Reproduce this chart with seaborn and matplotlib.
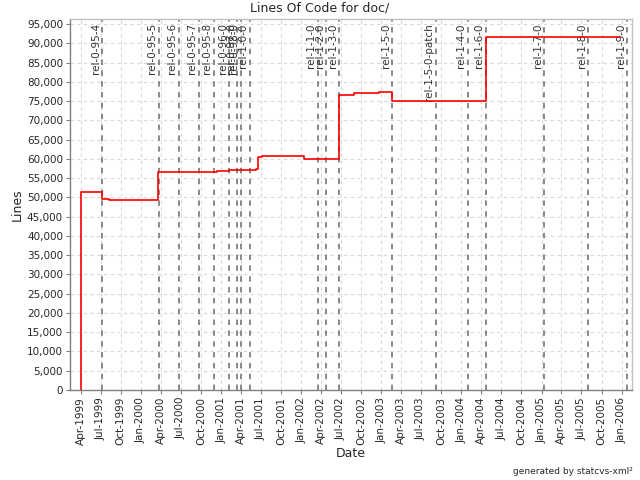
import pandas as pd
import matplotlib
matplotlib.use("Agg")
import matplotlib.pyplot as plt
import matplotlib.dates as mdates
import matplotlib.ticker as mticker
import seaborn as sns

# Lines of code over time
commit_dates = ["1999-04-01", "1999-04-01", "1999-07-08", "1999-08-09", "2000-03-20",
                "2000-12-11", "2001-02-07", "2001-06-08", "2001-06-16", "2001-07-07",
                "2002-01-12", "2002-06-23", "2002-08-29", "2002-12-22", "2003-02-19",
                "2004-04-20", "2005-12-24"]
loc_values = [0, 51500, 49500, 49250, 56500,
              56750, 57000, 57350, 60350, 60700,
              60050, 76550, 77000, 77250, 74950,
              91650, 91650]

# CVS tags shown as vertical markers
tag_names = ["rel-0-95-4", "rel-0-95-5", "rel-0-95-6", "rel-0-95-7", "rel-0-95-8",
             "rel-0-96-0", "rel-0-97-0", "rel-0-98-0", "rel-1-0-0",
             "rel-1-1-0", "rel-1-2-0", "rel-1-3-0", "rel-1-5-0", "rel-1-5-0-patch",
             "rel-1-4-0", "rel-1-6-0", "rel-1-7-0", "rel-1-8-0", "rel-1-9-0"]
tag_dates = ["1999-07-08", "2000-03-21", "2000-06-20", "2000-09-20", "2000-11-27",
             "2001-02-06", "2001-03-14", "2001-03-31", "2001-05-10",
             "2002-03-17", "2002-04-25", "2002-06-23", "2003-02-19", "2003-09-06",
             "2004-01-29", "2004-04-20", "2005-01-12", "2005-08-02", "2006-01-25"]

df = pd.DataFrame({"date": pd.to_datetime(commit_dates), "lines": loc_values})

sns.set_style("white")
plt.rcParams["font.family"] = ["DejaVu Sans"]

fig = plt.figure(figsize=(6.4, 4.8), dpi=100)
ax = fig.add_axes([70 / 640, 1 - 390 / 480, 562 / 640, 371 / 480])

# tag markers
for name, d in zip(tag_names, pd.to_datetime(tag_dates)):
    ax.axvline(d, color="#808080", linestyle=(0, (3, 3)), linewidth=1.3, zorder=2)
    ax.annotate(name, xy=(d, 1), xycoords=("data", "axes fraction"),
                xytext=(-1, -3), textcoords="offset points",
                rotation=90, ha="right", va="top", fontsize=7.5, color="#333333")

sns.lineplot(data=df, x="date", y="lines", ax=ax, color="red", linewidth=1.2,
             drawstyle="steps-post", estimator=None, sort=False, zorder=3)

ax.set_xlim(pd.Timestamp("1999-02-11"), pd.Timestamp("2006-02-17"))
ax.set_ylim(0, 96300)
ax.yaxis.set_major_locator(mticker.MultipleLocator(5000))
ax.yaxis.set_major_formatter(mticker.FuncFormatter(lambda v, p: f"{v:,.0f}"))
ax.xaxis.set_major_locator(mdates.MonthLocator(bymonth=[1, 4, 7, 10]))
ax.xaxis.set_major_formatter(mdates.DateFormatter("%b-%Y"))
plt.setp(ax.get_xticklabels(), rotation=90)

ax.grid(True, color="#d8d8d8", linestyle=(0, (3, 3)), linewidth=0.8)
ax.tick_params(axis="both", labelsize=7.5, length=3, color="#808080",
               direction="out", left=True, bottom=True, pad=2)
for side in ["top", "right"]:
    ax.spines[side].set_color("#c0c0c0")
for side in ["left", "bottom"]:
    ax.spines[side].set_color("#808080")
for s in ax.spines.values():
    s.set_linewidth(1)

ax.set_xlabel("Date", fontsize=9, labelpad=1)
ax.set_ylabel("Lines", fontsize=9, labelpad=2)
fig.text(0.5, 1 - 8 / 480, "Lines Of Code for doc/", ha="center", va="center", fontsize=9)
fig.text(633 / 640, 1 - 471 / 480, "generated by statcvs-xml²", ha="right", va="center",
         fontsize=6.5)

fig.savefig("out.png", dpi=100)
